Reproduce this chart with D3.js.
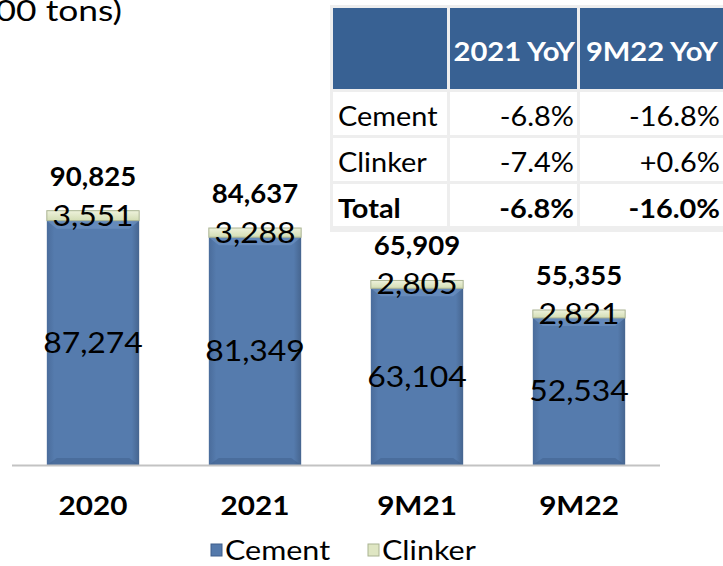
<!DOCTYPE html>
<html><head><meta charset="utf-8">
<script src="https://cdn.jsdelivr.net/npm/d3@7"></script>
<style>body{margin:0;background:#fff;overflow:hidden}svg{display:block}</style>
</head><body>
<svg id="c" width="723" height="566"></svg>
<script>
const categories = ["2020", "2021", "9M21", "9M22"];
const cement = [87274, 81349, 63104, 52534];
const clinker = [3551, 3288, 2805, 2821];
const totals = [90825, 84637, 65909, 55355];
const seriesNames = ["Cement", "Clinker"];
const unitLabel = "(000 tons)";
const tableHeader = ["", "2021 YoY", "9M22 YoY"];
const tableRowNames = ["Cement", "Clinker", "Total"];
const tableCol1 = ["-6.8%", "-7.4%", "-6.8%"];
const tableCol2 = ["-16.8%", "+0.6%", "-16.0%"];

const FONT = "Lato, 'Open Sans', sans-serif";
const svg = d3.select("#c");
const defs = svg.append("defs");

const gC = defs.append("linearGradient").attr("id","gc").attr("x1",0).attr("x2",1).attr("y1",0).attr("y2",0);
gC.append("stop").attr("offset","0%").attr("stop-color","#4a6c9b");
gC.append("stop").attr("offset","8%").attr("stop-color","#557bad");
gC.append("stop").attr("offset","92%").attr("stop-color","#557bad");
gC.append("stop").attr("offset","100%").attr("stop-color","#46658f");
const gK = defs.append("linearGradient").attr("id","gk").attr("x1",0).attr("x2",0).attr("y1",0).attr("y2",1);
gK.append("stop").attr("offset","0%").attr("stop-color","#eef2dc");
gK.append("stop").attr("offset","100%").attr("stop-color","#d3ddb4");

const x = d3.scaleBand().domain(categories).range([12, 660]).paddingInner(0.43).paddingOuter(0.215);
const y = d3.scaleLinear().domain([0, 100000]).range([465, 185]);

function stext(parent, px, py, str, size, weight, sx, anchor, fill) {
  const g = parent.append("g").attr("transform", `translate(${px},${py}) scale(${sx},1)`);
  return g.append("text").attr("x",0).attr("y",0).text(str)
    .attr("font-family", FONT).attr("font-size", size).attr("font-weight", weight)
    .attr("text-anchor", anchor || "middle").attr("fill", fill || "#000");
}

// unit label
stext(svg, 122, 21, unitLabel, 29, 400, 1.22, "end");

// bars
const bars = svg.append("g");
categories.forEach((c, i) => {
  const bx = x(c), bw = x.bandwidth();
  const y0 = y(0), y1 = y(cement[i]), y2 = y(cement[i] + clinker[i]);
  bars.append("rect").attr("x", bx).attr("y", y1).attr("width", bw).attr("height", y0 - y1).attr("fill", "url(#gc)");
  bars.append("path").attr("d", `M${bx},${y1}L${bx+bw},${y1}L${bx+bw-10},${y1+8}L${bx+10},${y1+8}Z`).attr("fill", "#7094c4").attr("opacity", 0.6);
  bars.append("path").attr("d", `M${bx},${y0}L${bx+bw},${y0}L${bx+bw-10},${y0-7}L${bx+10},${y0-7}Z`).attr("fill", "#3f5f8c").attr("opacity", 0.5);
  bars.append("rect").attr("x", bx).attr("y", y2).attr("width", bw).attr("height", y1 - y2).attr("fill", "url(#gk)").attr("stroke", "#aab392").attr("stroke-width", 1);
});

// axis line
svg.append("line").attr("x1", 12).attr("x2", 660).attr("y1", 465.5).attr("y2", 465.5).attr("stroke", "#c3c3c3").attr("stroke-width", 2);

// labels
categories.forEach((c, i) => {
  const cx = x(c) + x.bandwidth() / 2;
  const y0 = y(0), y1 = y(cement[i]), y2 = y(cement[i] + clinker[i]);
  stext(svg, cx, (y0 + y1) / 2 + 10, d3.format(",")(cement[i]), 29, 400, 1.1);
  stext(svg, cx, (y1 + y2) / 2 + 10, d3.format(",")(clinker[i]), 29, 400, 1.1);
  stext(svg, cx, y2 - 25, d3.format(",")(totals[i]), 27, 700, 1.02);
  stext(svg, cx, 515, c, 27, 700, 1.1);
});

// legend
const leg = [{name: seriesNames[0], x: 211, fill: "#5479ab", stroke: "#3f5f8c"}, {name: seriesNames[1], x: 368, fill: "#dfe6c3", stroke: "#aab392"}];
leg.forEach(l => {
  svg.append("rect").attr("x", l.x).attr("y", 544).attr("width", 11).attr("height", 12).attr("fill", l.fill).attr("stroke", l.stroke);
  stext(svg, l.x + 14, 560, l.name, 27, 400, 1.13, "start");
});

// table
const tb = svg.append("g");
const colX = [333, 450, 580, 723];
const rowY = [8, 92, 138, 184, 229];
tb.append("rect").attr("x", 330).attr("y", 5).attr("width", 393).attr("height", 227).attr("fill", "#eeeeee");
for (let r = 0; r < 4; r++) {
  for (let cIdx = 0; cIdx < 3; cIdx++) {
    tb.append("rect").attr("x", colX[cIdx]).attr("y", rowY[r])
      .attr("width", colX[cIdx+1] - colX[cIdx] - (cIdx < 2 ? 3 : 0)).attr("height", rowY[r+1] - rowY[r] - 3)
      .attr("fill", r === 0 ? "#386193" : "#ffffff");
  }
}
tableHeader.forEach((h, i) => {
  if (!h) return;
  stext(tb, colX[i+1] - 5, 61, h, 27, 700, 1.08, "end", "#ffffff");
});
tableRowNames.forEach((n, r) => {
  const bold = r === 2 ? 700 : 400;
  const ty = rowY[r+1] + 34;
  stext(tb, 338, ty, n, 27, bold, 1.07, "start");
  stext(tb, 574, ty, tableCol1[r], 27, bold, 1.07, "end");
  stext(tb, 720, ty, tableCol2[r], 27, bold, 1.07, "end");
});
</script>
</body></html>
